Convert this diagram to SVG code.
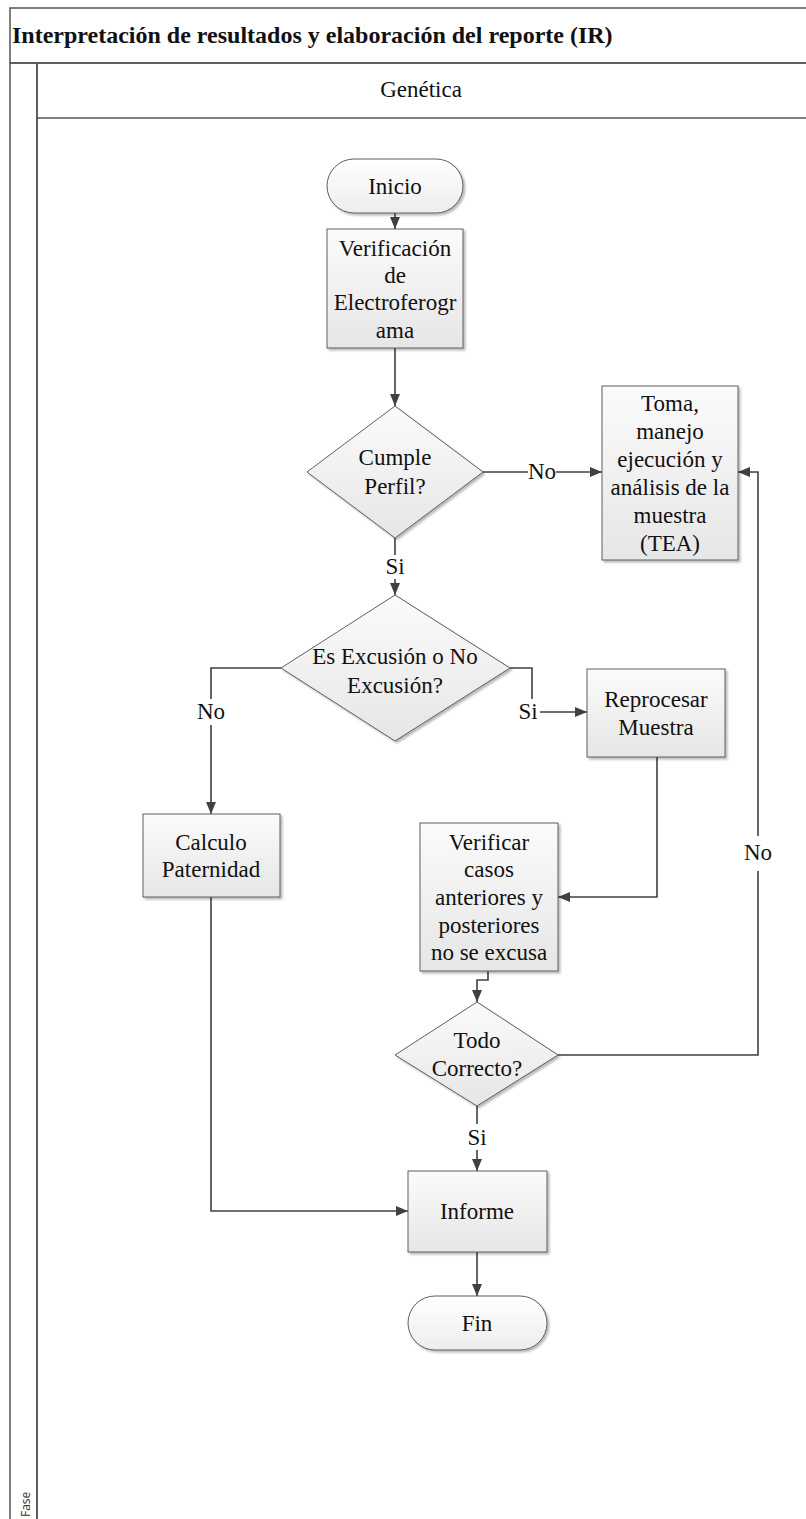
<svg xmlns="http://www.w3.org/2000/svg" width="806" height="1519" viewBox="0 0 806 1519">
  <defs>
    <linearGradient id="bandFill" x1="0" y1="0" x2="0" y2="1">
      <stop offset="0" stop-color="#ffffff"/>
      <stop offset="1" stop-color="#ececec"/>
    </linearGradient>
    <linearGradient id="stripFill" x1="0" y1="0" x2="1" y2="0">
      <stop offset="0" stop-color="#f6f6f6"/>
      <stop offset="1" stop-color="#e4e4e4"/>
    </linearGradient>
    <linearGradient id="nodeFill" x1="0" y1="0" x2="0" y2="1">
      <stop offset="0" stop-color="#fbfbfb"/>
      <stop offset="1" stop-color="#e6e6e6"/>
    </linearGradient>
    <linearGradient id="termFill" x1="0" y1="0" x2="0" y2="1">
      <stop offset="0" stop-color="#ffffff"/>
      <stop offset="1" stop-color="#ededed"/>
    </linearGradient>
    <filter id="shadow" x="-10%" y="-10%" width="130%" height="130%">
      <feDropShadow dx="2" dy="2" stdDeviation="1.2" flood-color="#000" flood-opacity="0.28"/>
    </filter>
    <marker id="arrow" viewBox="0 0 12 10" refX="12" refY="5" markerWidth="12" markerHeight="10" markerUnits="userSpaceOnUse" orient="auto">
      <path d="M0,0 L12,5 L0,10 z" fill="#404040"/>
    </marker>
    <style>
      .frame { fill: none; stroke: #555; stroke-width: 1.5; }
      .box { fill: url(#nodeFill); stroke: #5e5e5e; stroke-width: 1; filter: url(#shadow); }
      .term { fill: url(#termFill); stroke: #5e5e5e; stroke-width: 1; filter: url(#shadow); }
      .dia { fill: url(#nodeFill); stroke: #5e5e5e; stroke-width: 1; filter: url(#shadow); }
      .t { font-family: "Liberation Serif", "Times New Roman", serif; font-size: 23px; fill: #111; text-anchor: middle; }
      .edge { fill: none; stroke: #404040; stroke-width: 1.6; }
      .arr { marker-end: url(#arrow); }
      .lblbg { fill: #ffffff; }
    </style>
  </defs>

  <rect width="806" height="1519" fill="#ffffff"/>

  <!-- pool and lane frame -->
  <g id="pool">
    <rect x="10" y="8" width="800" height="55" fill="url(#bandFill)" class="frame"/>
    <text x="12" y="43" font-family="Liberation Serif, 'Times New Roman', serif" font-size="24" font-weight="bold" fill="#111">Interpretación de resultados y elaboración del reporte (IR)</text>
    <rect x="10" y="63" width="27" height="1470" fill="url(#stripFill)" class="frame"/>
    <text transform="translate(30,1517) rotate(-90)" font-family="'Open Sans', 'Liberation Sans', sans-serif" font-size="12" fill="#333">Fase</text>
    <rect x="37" y="63" width="773" height="55" fill="url(#bandFill)" class="frame"/>
    <text x="421" y="97" class="t" font-size="21">Genética</text>
    <line x1="37" y1="118" x2="37" y2="1519" stroke="#555" stroke-width="1.5"/>
  </g>

  <!-- connectors -->
  <g id="connectors">
    <path class="edge arr" d="M395,213 V229"/>
    <path class="edge arr" d="M395,348 V406"/>
    <path class="edge arr" d="M483,472 H602"/>
    <path class="edge arr" d="M395,538 V595"/>
    <path class="edge arr" d="M281,668 H211 V814"/>
    <path class="edge arr" d="M510,668 H532 V712 H587"/>
    <path class="edge arr" d="M657,757 V897 H558"/>
    <path class="edge arr" d="M488,971 V980 H477 V1002"/>
    <path class="edge arr" d="M558,1055 H758 V472 H738"/>
    <path class="edge arr" d="M477,1106 V1171"/>
    <path class="edge arr" d="M211,897 V1211 H408"/>
    <path class="edge arr" d="M477,1252 V1296"/>

    <!-- connector labels -->
    <rect class="lblbg" x="528" y="460" width="28" height="24"/>
    <text class="t" x="542" y="479">No</text>
    <rect class="lblbg" x="383" y="555" width="24" height="24"/>
    <text class="t" x="395" y="574">Si</text>
    <rect class="lblbg" x="197" y="699" width="28" height="26"/>
    <text class="t" x="211" y="719">No</text>
    <rect class="lblbg" x="516" y="699" width="24" height="26"/>
    <text class="t" x="528" y="719">Si</text>
    <rect class="lblbg" x="744" y="836" width="28" height="35"/>
    <text class="t" x="758" y="860">No</text>
    <rect class="lblbg" x="465" y="1124" width="24" height="26"/>
    <text class="t" x="477" y="1145">Si</text>
  </g>

  <g id="inicio">
    <rect class="term" x="327" y="159" width="136" height="54" rx="27" ry="27"/>
    <text class="t" x="395" y="194">Inicio</text>
  </g>

  <g id="verificacion">
    <rect class="box" x="327" y="229" width="136" height="119"/>
    <text class="t" x="395" y="256">Verificación</text>
    <text class="t" x="395" y="283">de</text>
    <text class="t" x="395" y="310">Electroferogr</text>
    <text class="t" x="395" y="338">ama</text>
  </g>

  <g id="cumple-perfil">
    <polygon class="dia" points="395,406 483,472 395,538 307,472"/>
    <text class="t" x="395" y="465">Cumple</text>
    <text class="t" x="395" y="494">Perfil?</text>
  </g>

  <g id="toma-muestra">
    <rect class="box" x="602" y="386" width="136" height="174"/>
    <text class="t" x="670" y="411">Toma,</text>
    <text class="t" x="670" y="439">manejo</text>
    <text class="t" x="670" y="467">ejecución y</text>
    <text class="t" x="670" y="495">análisis  de la</text>
    <text class="t" x="670" y="523">muestra</text>
    <text class="t" x="670" y="551">(TEA)</text>
  </g>

  <g id="excusion">
    <polygon class="dia" points="395,595 510,668 395,741 281,668"/>
    <text class="t" x="395" y="664">Es Excusión o No</text>
    <text class="t" x="395" y="693">Excusión?</text>
  </g>

  <g id="reprocesar">
    <rect class="box" x="587" y="669" width="138" height="88"/>
    <text class="t" x="656" y="707">Reprocesar</text>
    <text class="t" x="656" y="735">Muestra</text>
  </g>

  <g id="calculo">
    <rect class="box" x="143" y="814" width="137" height="83"/>
    <text class="t" x="211" y="850">Calculo</text>
    <text class="t" x="211" y="877">Paternidad</text>
  </g>

  <g id="verificar-casos">
    <rect class="box" x="420" y="823" width="138" height="148"/>
    <text class="t" x="489" y="850">Verificar</text>
    <text class="t" x="489" y="877">casos</text>
    <text class="t" x="489" y="905">anteriores y</text>
    <text class="t" x="489" y="933">posteriores</text>
    <text class="t" x="489" y="960">no se excusa</text>
  </g>

  <g id="todo-correcto">
    <polygon class="dia" points="477,1002 558,1055 477,1106 395,1055"/>
    <text class="t" x="477" y="1048">Todo</text>
    <text class="t" x="477" y="1076">Correcto?</text>
  </g>

  <g id="informe">
    <rect class="box" x="408" y="1171" width="139" height="81"/>
    <text class="t" x="477" y="1219">Informe</text>
  </g>

  <g id="fin">
    <rect class="term" x="408" y="1296" width="139" height="54" rx="27" ry="27"/>
    <text class="t" x="477" y="1331">Fin</text>
  </g>
</svg>
